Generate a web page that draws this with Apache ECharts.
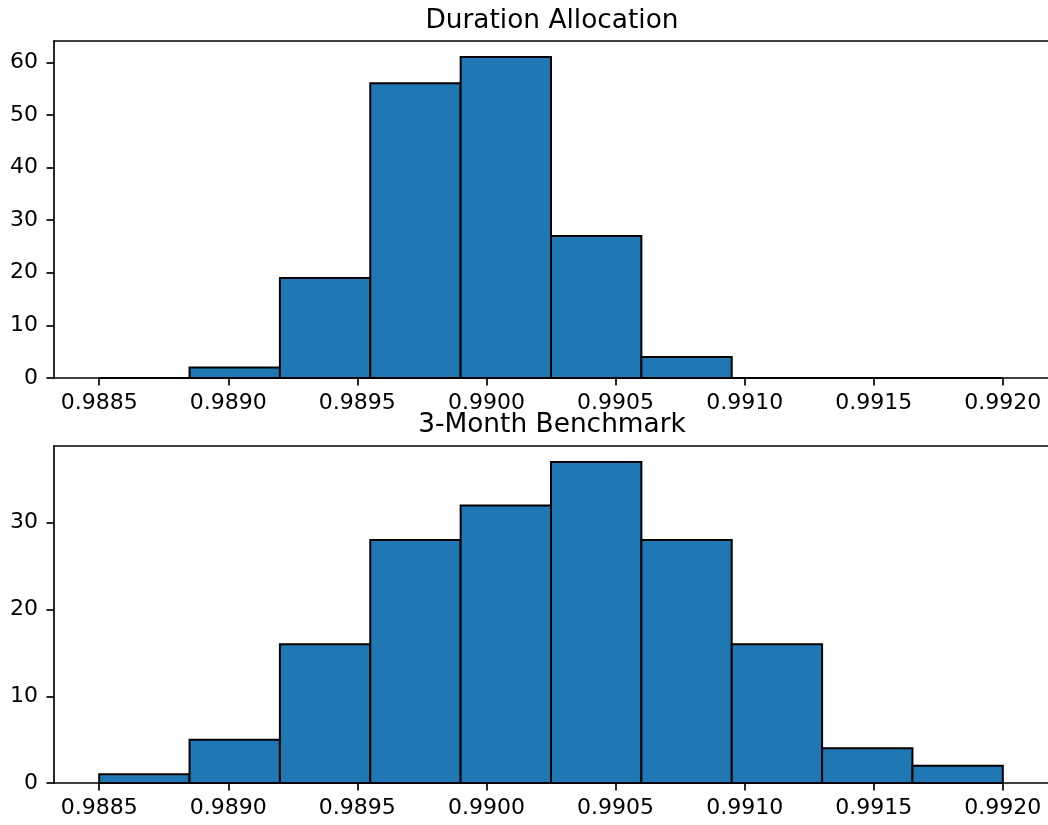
<!DOCTYPE html>
<html>
<head>
<meta charset="utf-8">
<script src="https://cdn.jsdelivr.net/npm/echarts@6/dist/echarts.min.js"></script>
<style>
  html, body { margin: 0; padding: 0; background: #fff; }
  #chart { width: 1048px; height: 825px; }
</style>
</head>
<body>
<div id="chart"></div>
<script>
// ---- data ----
const titles = ['Duration Allocation', '3-Month Benchmark'];
const binEdges = [0.9885, 0.98885, 0.9892, 0.98955, 0.9899, 0.99025, 0.9906, 0.99095, 0.9913, 0.99165, 0.992];
const countsTop = [0, 2, 19, 56, 61, 27, 4, 0, 0, 0];
const countsBottom = [1, 5, 16, 28, 32, 37, 28, 16, 4, 2];
const xTicks = [0.9885, 0.9890, 0.9895, 0.9900, 0.9905, 0.9910, 0.9915, 0.9920];
const yTicksTop = [0, 10, 20, 30, 40, 50, 60];
const yTicksBottom = [0, 10, 20, 30];
const xRange = [0.988325, 0.992175];
const yMaxTop = 64.05;
const yMaxBottom = 38.85;

// ---- build ----
const FONT = 'DejaVu Sans';
const LW = 1.7;
function bins(counts) {
  return counts.map((c, i) => [binEdges[i], binEdges[i + 1], c]);
}
function renderBar(params, api) {
  const p0 = api.coord([api.value(0), 0]);
  const p1 = api.coord([api.value(1), api.value(2)]);
  return {
    type: 'rect',
    shape: { x: p0[0], y: p1[1], width: p1[0] - p0[0], height: p0[1] - p1[1] },
    style: { fill: '#1f77b4', stroke: '#000000', lineWidth: 2 }
  };
}
function xAxis(gi) {
  return {
    type: 'value', gridIndex: gi, min: xRange[0], max: xRange[1], position: 'bottom',
    splitLine: { show: false },
    axisLine: { show: true, onZero: false, lineStyle: { color: '#000', width: LW } },
    axisTick: { show: true, inside: false, length: 7.5, customValues: xTicks, lineStyle: { color: '#000', width: LW } },
    axisLabel: { customValues: xTicks, formatter: v => v.toFixed(4), color: '#000', fontFamily: FONT, fontSize: 22, margin: 14 }
  };
}
function xAxisTop(gi) {
  return {
    type: 'value', gridIndex: gi, min: xRange[0], max: xRange[1], position: 'top',
    splitLine: { show: false },
    axisLine: { show: true, onZero: false, lineStyle: { color: '#000', width: LW } },
    axisTick: { show: false }, axisLabel: { show: false }
  };
}
function yAxis(gi, max, ticks) {
  return {
    type: 'value', gridIndex: gi, min: 0, max: max,
    splitLine: { show: false },
    axisLine: { show: true, onZero: false, lineStyle: { color: '#000', width: LW } },
    axisTick: { show: true, inside: false, length: 7.5, customValues: ticks, lineStyle: { color: '#000', width: LW } },
    axisLabel: { customValues: ticks, color: '#000', fontFamily: FONT, fontSize: 22, margin: 16 }
  };
}
const gridCommon = { left: 54, right: -2, height: 337, show: false };
const option = {
  animation: false,
  backgroundColor: '#ffffff',
  grid: [
    Object.assign({ top: 41 }, gridCommon),
    Object.assign({ top: 446 }, gridCommon)
  ],
  xAxis: [xAxis(0), xAxis(1), xAxisTop(0), xAxisTop(1)],
  yAxis: [yAxis(0, yMaxTop, yTicksTop), yAxis(1, yMaxBottom, yTicksBottom)],
  graphic: [
    { type: 'text', x: 552, y: 34, z: 100, style: { text: titles[0], font: '26.4px "DejaVu Sans"', fill: '#000', textAlign: 'center', textVerticalAlign: 'bottom', verticalAlign: 'bottom' } },
    { type: 'text', x: 552, y: 438, z: 100, style: { text: titles[1], font: '26.4px "DejaVu Sans"', fill: '#000', textAlign: 'center', textVerticalAlign: 'bottom', verticalAlign: 'bottom' } }
  ],
  series: [
    { type: 'custom', xAxisIndex: 0, yAxisIndex: 0, renderItem: renderBar, data: bins(countsTop), clip: false, encode: { x: [0, 1], y: 2 } },
    { type: 'custom', xAxisIndex: 1, yAxisIndex: 1, renderItem: renderBar, data: bins(countsBottom), clip: false, encode: { x: [0, 1], y: 2 } }
  ]
};
const chart = echarts.init(document.getElementById('chart'), null, { renderer: 'canvas' });
chart.setOption(option);
</script>
</body>
</html>
